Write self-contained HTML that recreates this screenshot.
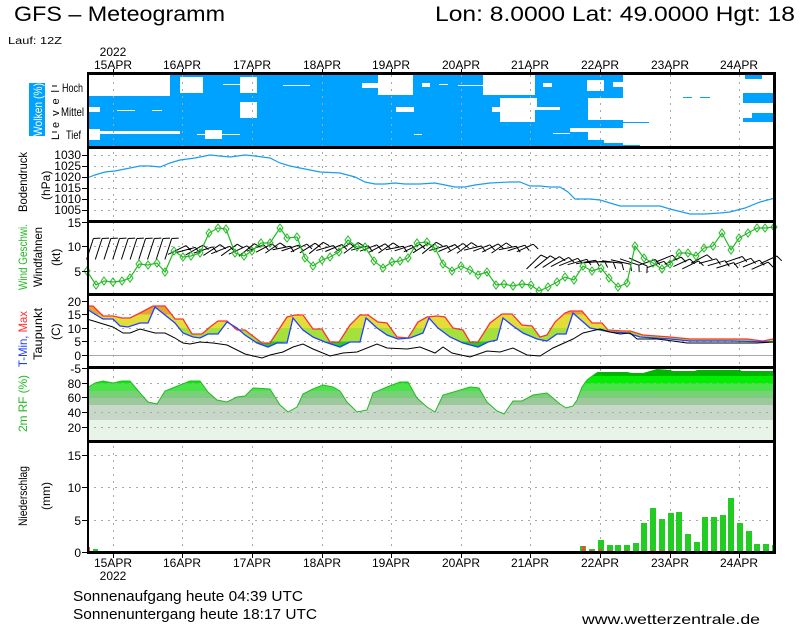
<!DOCTYPE html>
<html><head><meta charset="utf-8"><style>
html,body{margin:0;padding:0;background:#fff;}
svg{display:block;font-family:"Liberation Sans",sans-serif;}
</style></head><body>
<svg id="s" width="800" height="625" viewBox="0 0 800 625" xmlns="http://www.w3.org/2000/svg">
<defs>
<clipPath id="tclip"><polygon points="87,306 93,306 103,316 113,316 122,318 130,318 140,313 153,306 165,306 175,319 183,319 192,334 202,334 210,327 218,321 227,321 237,330 245,330 262,343 270,343 287,317 295,315 303,315 313,329 322,329 330,342 339,342 350,325 360,315 368,315 378,322 387,323 397,337 408,338 418,322 427,317 437,316 445,317 453,328 463,330 470,342 478,342 490,323 502,314 512,314 522,325 532,326 540,337 547,335 555,322 565,313 570,311 582,311 592,323 602,323 608,330 623,331 630,331 643,335 670,337 690,339 730,339 747,339 763,341 773,339 773,342 730,341 690,341 670,339 640,337 628,333 610,332 590,328 573,313 566,334 557,334 547,341 537,339 523,333 513,326 503,318 497,340 488,342 478,347 463,343 450,337 438,328 429,318 423,333 410,338 398,339 387,335 377,328 366,318 360,342 350,342 340,347 325,342 313,337 303,330 293,318 287,342 277,343 268,347 257,343 245,335 237,328 227,322 218,334 208,334 200,338 193,337 183,333 175,323 165,315 155,307 148,323 140,323 128,327 120,326 113,319 103,319 93,313 87,309"/></clipPath>
<clipPath id="rclip"><polygon points="87,388 95,383 103,381 113,383 122,381 130,381 140,393 148,402 157,404 165,391 180,385 190,381 200,381 208,392 217,400 227,402 237,397 245,396 253,388 270,389 280,405 288,412 297,407 303,394 313,389 323,385 333,387 340,391 347,402 357,412 367,410 373,393 387,387 400,382 408,382 417,398 427,407 435,412 443,395 457,391 470,387 479,388 487,402 497,411 504,414 513,401 522,401 533,395 547,393 553,398 560,404 566,408 573,406 577,400 582,387 587,380 595,374 598,372 627,372 632,373 643,373 650,371 657,369 670,370 673,371 695,371 697,370 740,370 742,371 775,371 775,441 87,441"/></clipPath>
</defs>

<!-- header -->
<text x="14" y="21" font-size="21" textLength="211" lengthAdjust="spacingAndGlyphs">GFS – Meteogramm</text>
<text x="435" y="21" font-size="21" textLength="360" lengthAdjust="spacingAndGlyphs">Lon: 8.0000 Lat: 49.0000 Hgt: 18</text>
<text x="8" y="44" font-size="10" textLength="54" lengthAdjust="spacingAndGlyphs">Lauf: 12Z</text>
<g font-size="12" text-anchor="middle">
<text x="113" y="56">2022</text>
<text x="113" y="69">15APR</text><text x="182" y="69">16APR</text><text x="252" y="69">17APR</text><text x="322" y="69">18APR</text><text x="391" y="69">19APR</text><text x="461" y="69">20APR</text><text x="530" y="69">21APR</text><text x="600" y="69">22APR</text><text x="670" y="69">23APR</text><text x="739" y="69">24APR</text>
<text x="113" y="567">15APR</text><text x="113" y="580">2022</text><text x="182" y="567">16APR</text><text x="252" y="567">17APR</text><text x="322" y="567">18APR</text><text x="391" y="567">19APR</text><text x="461" y="567">20APR</text><text x="530" y="567">21APR</text><text x="600" y="567">22APR</text><text x="670" y="567">23APR</text><text x="739" y="567">24APR</text>
</g>

<!-- clouds -->
<g fill="#00a2ff">
<rect x="87" y="75" width="536" height="23"/>
<rect x="87" y="98" width="501" height="22"/>
<rect x="87" y="120" width="536" height="8"/>
<rect x="87" y="128" width="483" height="4"/>
<rect x="87" y="132" width="501" height="8"/>
<rect x="87" y="140" width="517" height="3"/>
<rect x="87" y="143" width="536" height="4"/>
<rect x="623" y="145" width="17" height="2"/>
<rect x="745" y="75" width="17" height="4"/>
<rect x="743" y="93" width="30" height="10"/>
<rect x="752" y="113" width="23" height="9"/>
<rect x="743" y="118" width="10" height="4"/>
<rect x="683" y="97" width="9" height="1"/><rect x="700" y="97" width="10" height="1"/>
<rect x="623" y="122" width="26" height="1"/>
</g>
<g fill="#fff">
<rect x="87" y="75" width="83" height="21"/>
<rect x="180" y="77" width="23" height="16"/>
<rect x="240" y="77" width="17" height="16"/>
<rect x="240" y="102" width="17" height="16"/>
<rect x="223" y="84" width="17" height="1"/>
<rect x="283" y="85" width="27" height="1"/>
<rect x="87" y="107" width="13" height="5"/>
<rect x="117" y="110" width="18" height="1"/><rect x="152" y="110" width="10" height="1"/>
<rect x="87" y="129" width="13" height="11"/>
<rect x="100" y="131" width="80" height="3"/>
<rect x="205" y="130" width="17" height="9"/>
<rect x="197" y="134" width="43" height="1"/>
<rect x="378" y="75" width="35" height="20"/>
<rect x="362" y="83" width="16" height="5"/>
<rect x="422" y="83" width="8" height="4"/><rect x="439" y="84" width="9" height="1"/>
<rect x="396" y="107" width="18" height="5"/>
<rect x="414" y="134" width="8" height="1"/>
<rect x="483" y="75" width="52" height="20"/>
<rect x="500" y="98" width="35" height="24"/>
<rect x="492" y="107" width="21" height="5"/>
<rect x="458" y="85" width="25" height="1"/>
<rect x="530" y="78" width="5" height="14"/>
<rect x="543" y="83" width="9" height="4"/>
<rect x="587" y="80" width="17" height="11"/>
<rect x="613" y="82" width="10" height="5"/>
<rect x="530" y="98" width="7" height="9"/>
<rect x="588" y="112" width="16" height="8"/>
<rect x="535" y="107" width="25" height="3"/>
<rect x="553" y="133" width="17" height="1"/>
</g>
<rect x="29" y="83" width="16" height="53" fill="#00a2ff"/>
<text transform="translate(42,136) rotate(-90)" font-size="12" fill="#fff" textLength="53" lengthAdjust="spacingAndGlyphs">Wolken (%)</text>
<text transform="translate(59,140) rotate(-90)" font-size="11" textLength="50" lengthAdjust="spacing">Level</text>
<g font-size="12">
<text x="62" y="92" textLength="21" lengthAdjust="spacingAndGlyphs">Hoch</text><text x="61" y="116" textLength="23" lengthAdjust="spacingAndGlyphs">Mittel</text><text x="66" y="139" textLength="15" lengthAdjust="spacingAndGlyphs">Tief</text>
</g>

<!-- grid -->
<g stroke="#a8a8a8" stroke-width="1" stroke-dasharray="2,5" fill="none">
<path d="M113.5 75V552M182.5 75V552M252.5 75V552M322.5 75V552M391.5 75V552M461.5 75V552M530.5 75V552M600.5 75V552M670.5 75V552M739.5 75V552"/>
<path d="M87 155.5H775M87 166.5H775M87 177.5H775M87 188.5H775M87 199.5H775M87 210.5H775"/>
<path d="M87 246.5H775M87 271.5H775"/>
<path d="M87 301.5H775M87 314.5H775M87 328.5H775M87 341.5H775"/>
<path d="M87 383.5H775M87 397.5H775M87 412.5H775M87 427.5H775"/>
<path d="M87 455.5H775M87 487.5H775M87 520.5H775"/>
</g>
<path d="M87 355.5H775" stroke="#aaa" stroke-width="1"/>

<!-- pressure -->
<polyline fill="none" stroke="#1a9cf0" stroke-width="1.2" points="87,178 95,175 105,172 115,171 125,169 140,166 150,166 160,167 170,163 180,160 195,158 210,155 220,156 230,157 245,155 255,156 270,158 280,163 290,166 300,168 310,170 320,172 340,173 355,177 365,182 375,184 385,184 395,183 405,184 420,184 435,183 445,185 455,187 465,187 475,185 490,183 510,182 520,182 530,186 540,186 550,187 560,187 568,192 575,199 590,199 600,200 620,206 640,206 660,206 670,209 690,214 705,214 720,213 730,212 745,208 760,202 775,198"/>

<!-- wind barbs -->
<g id="barbs" stroke="#000" stroke-width="1" fill="none"></g>
<polyline id="wind" fill="none" stroke="#22bb22" stroke-width="1.2" points="87,271 96,285 104,281 113,282 122,281 130,278 139,264 148,265 157,263 165,272 174,251 183,257 191,256 200,253 209,233 218,228 226,229 235,253 244,256 252,251 261,243 270,243 280,228 287,238 297,237 305,258 313,266 322,260 330,257 339,252 348,240 357,247 365,247 374,261 383,268 392,262 400,261 408,258 417,243 427,242 435,248 443,264 452,271 461,266 470,270 478,275 487,272 496,285 504,284 513,286 522,284 531,285 539,291 548,287 557,282 565,277 574,280 583,266 592,271 601,268 609,278 618,287 627,283 635,246 644,258 653,263 662,269 670,264 679,253 688,253 696,256 704,248 713,246 722,233 731,250 739,238 748,233 757,228 765,228 774,227"/>
<g id="dia" fill="none" stroke="#22bb22" stroke-width="1"></g>

<!-- temperature -->
<g clip-path="url(#tclip)">
<rect x="87" y="295" width="688" height="19.5" fill="#e0a535"/>
<rect x="87" y="314.5" width="688" height="13.5" fill="#e3dd3a"/>
<rect x="87" y="328" width="688" height="13.5" fill="#a6e03a"/>
<rect x="87" y="341.5" width="688" height="26" fill="#22cc22"/>
</g>
<polyline fill="none" stroke="#ff3030" stroke-width="1.3" points="87,306 93,306 103,316 113,316 122,318 130,318 140,313 153,306 165,306 175,319 183,319 192,334 202,334 210,327 218,321 227,321 237,330 245,330 262,343 270,343 287,317 295,315 303,315 313,329 322,329 330,342 339,342 350,325 360,315 368,315 378,322 387,323 397,337 408,338 418,322 427,317 437,316 445,317 453,328 463,330 470,342 478,342 490,323 502,314 512,314 522,325 532,326 540,337 547,335 555,322 565,313 570,311 582,311 592,323 602,323 608,330 623,331 630,331 643,335 670,337 690,339 730,339 747,339 763,341 773,339"/>
<polyline fill="none" stroke="#2040ff" stroke-width="1.3" points="87,309 93,313 103,319 113,319 120,326 128,327 140,323 148,323 155,307 165,315 175,323 183,333 193,337 200,338 208,334 218,334 227,322 237,328 245,335 257,343 268,347 277,343 287,343 293,318 303,330 313,337 325,342 340,347 350,342 360,342 366,318 377,328 387,335 398,339 410,338 423,333 429,318 438,328 450,337 463,343 478,347 488,342 497,340 503,318 513,326 523,333 537,339 547,341 557,334 566,334 573,313 590,328 610,332 628,333 640,337 670,339 690,341 730,341 773,342"/>
<polyline fill="none" stroke="#000" stroke-width="1" points="87,319 100,323 113,327 123,333 130,333 140,329 155,333 165,333 175,338 183,343 190,344 200,342 213,343 227,345 245,354 262,358 270,355 283,352 293,347 303,344 313,349 330,356 343,353 357,352 377,344 387,348 407,349 420,347 435,353 443,347 452,353 470,357 487,351 500,352 513,348 527,355 540,356 553,348 573,339 583,333 600,329 610,332 620,334 630,333 637,339 657,339 673,341 687,343 730,343 757,343 773,342"/>

<!-- RF -->
<g clip-path="url(#rclip)">
<rect x="87" y="368" width="688" height="8" fill="#00b400"/>
<rect x="87" y="376" width="688" height="7.5" fill="#00ee00"/>
<rect x="87" y="383.5" width="688" height="7.5" fill="#4ae44a"/>
<rect x="87" y="391" width="688" height="7" fill="#78d078"/>
<rect x="87" y="398" width="688" height="7" fill="#9cc89c"/>
<rect x="87" y="405" width="688" height="15" fill="#c8d8c8"/>
<rect x="87" y="420" width="688" height="21" fill="#e8f4e8"/>
</g>
<g stroke="#a8a8a8" stroke-width="1" stroke-dasharray="2,5" fill="none"><path d="M87 383.5H775M87 397.5H775M87 412.5H775M87 427.5H775"/></g>
<polyline fill="none" stroke="#22bb22" stroke-width="1" points="87,388 95,383 103,381 113,383 122,381 130,381 140,393 148,402 157,404 165,391 180,385 190,381 200,381 208,392 217,400 227,402 237,397 245,396 253,388 270,389 280,405 288,412 297,407 303,394 313,389 323,385 333,387 340,391 347,402 357,412 367,410 373,393 387,387 400,382 408,382 417,398 427,407 435,412 443,395 457,391 470,387 479,388 487,402 497,411 504,414 513,401 522,401 533,395 547,393 553,398 560,404 566,408 573,406 577,400 582,387 587,380 595,374 598,372"/>

<!-- precipitation -->
<g fill="#22cc22">
<rect x="93" y="549" width="5" height="3"/>
<rect x="580" y="546" width="6" height="6"/><rect x="589" y="549" width="6" height="3"/><rect x="598" y="540" width="6" height="12"/><rect x="607" y="545" width="6" height="7"/><rect x="615" y="545" width="6" height="7"/><rect x="624" y="545" width="6" height="7"/><rect x="633" y="543" width="6" height="9"/><rect x="641" y="523" width="6" height="29"/><rect x="650" y="508" width="6" height="44"/><rect x="659" y="519" width="6" height="33"/><rect x="668" y="513" width="6" height="39"/><rect x="676" y="512" width="6" height="40"/><rect x="685" y="534" width="6" height="18"/><rect x="694" y="542" width="6" height="10"/><rect x="702" y="517" width="6" height="35"/><rect x="711" y="517" width="6" height="35"/><rect x="720" y="515" width="6" height="37"/><rect x="728" y="498" width="6" height="54"/><rect x="737" y="523" width="6" height="29"/><rect x="746" y="531" width="6" height="21"/><rect x="754" y="544" width="6" height="8"/><rect x="763" y="544" width="6" height="8"/><rect x="772" y="545" width="3" height="7"/>
</g>
<g fill="#ff4040">
<rect x="87" y="547" width="3" height="5"/><rect x="582" y="546" width="3" height="6"/><rect x="590" y="550" width="3" height="2"/><rect x="599" y="549" width="3" height="3"/><rect x="608" y="550" width="3" height="2"/><rect x="625" y="550" width="3" height="2"/><rect x="651" y="550" width="3" height="2"/><rect x="660" y="550" width="3" height="2"/><rect x="669" y="550" width="3" height="2"/>
</g>

<!-- frame -->
<g stroke="#000" fill="none">
<path d="M87 73.5H776M87 147.5H776M87 221.5H776M87 294.5H776M87 367.5H776M87 441.5H776M87 552.5H776" stroke-width="3"/>
<path d="M88 73V554" stroke-width="2"/>
<path d="M774.5 72V554" stroke-width="3"/>
<path d="M113.5 69V73M182.5 69V73M252.5 69V73M322.5 69V73M391.5 69V73M461.5 69V73M530.5 69V73M600.5 69V73M670.5 69V73M739.5 69V73" stroke-width="1"/>
<path d="M113.5 553V558M182.5 553V558M252.5 553V558M322.5 553V558M391.5 553V558M461.5 553V558M530.5 553V558M600.5 553V558M670.5 553V558M739.5 553V558" stroke-width="1"/>
<path d="M82 155.5H87M82 166.5H87M82 177.5H87M82 188.5H87M82 199.5H87M82 210.5H87M82 222.5H87M82 246.5H87M82 271.5H87M82 301.5H87M82 314.5H87M82 328.5H87M82 341.5H87M82 355.5H87M82 368.5H87M82 383.5H87M82 397.5H87M82 412.5H87M82 427.5H87M82 455.5H87M82 487.5H87M82 520.5H87M82 552.5H87M52 86H57M52 132H57" stroke-width="1"/>
</g>

<!-- tick labels -->
<g font-size="12" text-anchor="end">
<text x="81" y="159">1030</text><text x="81" y="170">1025</text><text x="81" y="181">1020</text><text x="81" y="192">1015</text><text x="81" y="203">1010</text><text x="81" y="214">1005</text>
<text x="81" y="227">15</text><text x="81" y="251">10</text><text x="81" y="276">5</text>
<text x="81" y="306">20</text><text x="81" y="319">15</text><text x="81" y="333">10</text><text x="81" y="346">5</text><text x="81" y="360">0</text><text x="81" y="373">-5</text>
<text x="81" y="388">80</text><text x="81" y="402">60</text><text x="81" y="417">40</text><text x="81" y="432">20</text>
<text x="81" y="460">15</text><text x="81" y="492">10</text><text x="81" y="525">5</text><text x="81" y="557">0</text>
</g>

<!-- axis titles -->
<g font-size="12">
<text transform="translate(27,212) rotate(-90)" textLength="60" lengthAdjust="spacingAndGlyphs">Bodendruck</text>
<text transform="translate(50,200) rotate(-90)">(hPa)</text>
<text transform="translate(27,290) rotate(-90)" fill="#22bb22" textLength="66" lengthAdjust="spacingAndGlyphs">Wind Geschwi.</text>
<text transform="translate(42,287) rotate(-90)" textLength="60" lengthAdjust="spacingAndGlyphs">Windfahnen</text>
<text transform="translate(60,266) rotate(-90)">(kt)</text>
<text transform="translate(27,367) rotate(-90)" textLength="56" lengthAdjust="spacingAndGlyphs"><tspan fill="#2040ff">T-Min, </tspan><tspan fill="#ff3030">Max</tspan></text>
<text transform="translate(42,360) rotate(-90)" textLength="52" lengthAdjust="spacingAndGlyphs">Taupunkt</text>
<text transform="translate(60,340) rotate(-90)">(C)</text>
<text transform="translate(27,432) rotate(-90)" fill="#22bb22" textLength="57" lengthAdjust="spacing">2m RF (%)</text>
<text transform="translate(27,526) rotate(-90)" textLength="60" lengthAdjust="spacingAndGlyphs">Niederschlag</text>
<text transform="translate(50,510) rotate(-90)">(mm)</text>
</g>

<!-- footer -->
<text x="73" y="601" font-size="15" textLength="230" lengthAdjust="spacingAndGlyphs">Sonnenaufgang heute 04:39 UTC</text>
<text x="73" y="619" font-size="15" textLength="244" lengthAdjust="spacingAndGlyphs">Sonnenuntergang heute 18:17 UTC</text>
<text x="582" y="624" font-size="14" textLength="178" lengthAdjust="spacingAndGlyphs">www.wetterzentrale.de</text>
</svg>
<script>
(function(){
var NS="http://www.w3.org/2000/svg";
var g=document.getElementById('barbs');
var pts=document.getElementById('wind').getAttribute('points').trim().split(/\s+/);
var d=document.getElementById('dia');
pts.forEach(function(p){var a=p.split(',').map(Number);
var e=document.createElementNS(NS,'path');
e.setAttribute('d','M'+a[0]+' '+(a[1]-4)+'L'+(a[0]+3)+' '+a[1]+'L'+a[0]+' '+(a[1]+4)+'L'+(a[0]-3)+' '+a[1]+'Z');
d.appendChild(e);});
var s='';
for(var x=90;x<772;x+=8.7){
 var ang, cy, L=16;
 if(x<170){ang=-72;cy=249;L=22;}
 else if(x<250){ang=-40+((x*7)%25);cy=250;L=20;}
 else if(x<530){ang=-25+((x*13)%30)-15;cy=248;L=18;}
 else if(x<640){ang=-65+((x*11)%90);cy=262;L=20;}
 else {ang=-20+((x*5)%15)-8;cy=258+((x*3)%8);L=18;}
 var r=ang*Math.PI/180;
 var dx=Math.cos(r)*L, dy=Math.sin(r)*L;
 var x1=x-dx/2,y1=cy-dy/2,x2=x+dx/2,y2=cy+dy/2;
 s+='M'+x1.toFixed(1)+' '+y1.toFixed(1)+'L'+x2.toFixed(1)+' '+y2.toFixed(1);
 var bx=x2+Math.cos(r+1.2)*7, by=y2+Math.sin(r+1.2)*7;
 s+='M'+x2.toFixed(1)+' '+y2.toFixed(1)+'L'+bx.toFixed(1)+' '+by.toFixed(1);
}
var e=document.createElementNS(NS,'path');e.setAttribute('d',s);g.appendChild(e);
})();
</script>
</body></html>
